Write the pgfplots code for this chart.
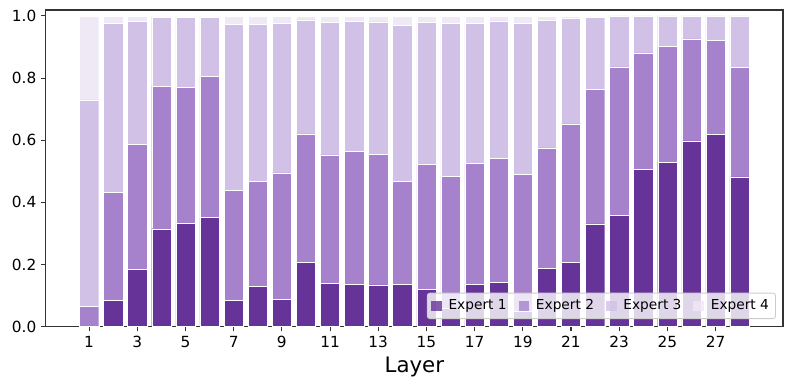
\documentclass[border=0pt]{standalone}
\usepackage{fontspec}
\setmainfont{DejaVu Sans}
\usepackage{pgfplots}
\pgfplotsset{compat=1.18}
\usepackage{pgfplotstable}

\definecolor{eone}{HTML}{663399}
\definecolor{etwo}{HTML}{A782CC}
\definecolor{ethree}{HTML}{D1C1E6}
\definecolor{efour}{HTML}{EFE8F5}

% layer, expert shares
\pgfplotstableread{
L  e1    e2    e3    e4
1  0.000 0.065 0.665 0.270
2  0.084 0.348 0.543 0.025
3  0.185 0.401 0.397 0.017
4  0.315 0.459 0.221 0.005
5  0.333 0.437 0.225 0.005
6  0.351 0.455 0.190 0.004
7  0.084 0.355 0.534 0.027
8  0.130 0.337 0.506 0.027
9  0.087 0.408 0.481 0.024
10 0.206 0.414 0.367 0.013
11 0.139 0.414 0.426 0.021
12 0.135 0.430 0.418 0.017
13 0.134 0.420 0.427 0.019
14 0.136 0.331 0.503 0.030
15 0.119 0.404 0.456 0.021
16 0.060 0.423 0.494 0.023
17 0.136 0.389 0.452 0.023
18 0.142 0.400 0.442 0.016
19 0.050 0.441 0.486 0.023
20 0.188 0.387 0.410 0.015
21 0.206 0.447 0.339 0.008
22 0.331 0.432 0.233 0.004
23 0.357 0.479 0.164 0.000
24 0.506 0.375 0.119 0.000
25 0.529 0.372 0.099 0.000
26 0.598 0.328 0.074 0.000
27 0.619 0.302 0.079 0.000
28 0.482 0.353 0.165 0.000
}\experts

\begin{document}
\begin{tikzpicture}
\begin{axis}[
  scale only axis, width=553pt, height=237.5pt,
  ybar stacked, bar width=0.8,
  xmin=-0.8, xmax=29.8, ymin=0, ymax=1.019,
  xtick={1,3,...,27},
  ytick={0,0.2,0.4,0.6,0.8,1.0},
  yticklabel style={/pgf/number format/.cd, fixed, fixed zerofill, precision=1},
  /pgf/number format/assume math mode=true,
  tick label style={font=\fontsize{11.5}{13}\selectfont},
  xlabel={Layer}, xlabel style={font=\fontsize{16}{18}\selectfont},
  axis line style={black!80, line width=0.8pt},
  tick style={black!80, line width=0.8pt},
  tick align=outside, tickpos=left,
  major tick length=3.5pt,
  legend columns=4,
  legend style={at={(0.9905,0.024)}, anchor=south east,
    fill=white, fill opacity=0.8, draw opacity=1, text opacity=1,
    draw=black!20, line width=0.6pt, rounded corners=2pt,
    font=\fontsize{10.3}{12}\selectfont, inner xsep=3pt, inner ysep=3pt,
    /tikz/every odd column/.append style={column sep=3pt},
    /tikz/every even column/.append style={column sep=7pt}},
  legend image code/.code={\fill[#1, draw=none, sharp corners] (0pt,-4pt) rectangle (8pt,4pt);},
]
\addplot[fill=eone, draw=white, line width=0.3pt] table[x=L, y=e1] {\experts};
\addplot[fill=etwo, draw=white, line width=0.3pt] table[x=L, y=e2] {\experts};
\addplot[fill=ethree, draw=white, line width=0.3pt] table[x=L, y=e3] {\experts};
\addplot[fill=efour, draw=white, line width=0.3pt] table[x=L, y=e4] {\experts};
\legend{Expert 1, Expert 2, Expert 3, Expert 4}
\end{axis}
\path ([xshift=-34.3pt, yshift=-48pt]current axis.south west) rectangle ([xshift=7.5pt, yshift=7.5pt]current axis.north east);
\end{tikzpicture}
\end{document}
